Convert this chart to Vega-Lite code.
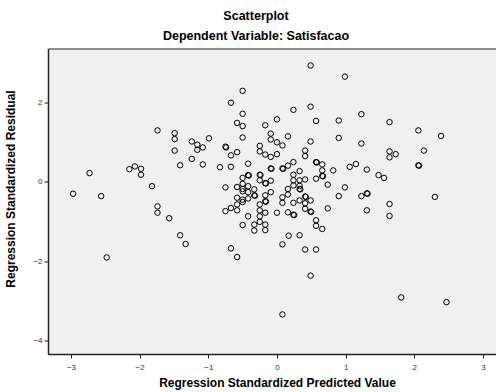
{
  "$schema": "https://vega.github.io/schema/vega-lite/v6.json",
  "autosize": "none",
  "width": 450,
  "height": 305.5,
  "padding": {"left": 48, "top": 48.5, "right": 0, "bottom": 38},
  "background": "#ffffff",
  "title": {
    "text": "Scatterplot",
    "subtitle": "Dependent Variable: Satisfacao",
    "font": "Liberation Sans",
    "fontSize": 12.5,
    "fontWeight": "bold",
    "color": "#000000",
    "subtitleFont": "Liberation Sans",
    "subtitleFontSize": 12.5,
    "subtitleFontWeight": "bold",
    "subtitleColor": "#000000",
    "subtitlePadding": 8,
    "anchor": "middle",
    "dx": -17,
    "offset": 6
  },
  "config": {
    "view": {"fill": "#f0f0f0", "stroke": "#222222", "strokeWidth": 1},
    "axis": {"grid": false}
  },
  "data": {
    "values": [
      {"pred": -2.97, "resid": -0.30}, {"pred": -2.73, "resid": 0.22}, {"pred": -2.56, "resid": -0.36}, {"pred": -2.48, "resid": -1.91},
      {"pred": -2.15, "resid": 0.32}, {"pred": -2.07, "resid": 0.39}, {"pred": -1.98, "resid": 0.33}, {"pred": -1.98, "resid": 0.18},
      {"pred": -1.82, "resid": -0.11}, {"pred": -1.74, "resid": 1.30}, {"pred": -1.74, "resid": -0.62}, {"pred": -1.74, "resid": -0.78},
      {"pred": -1.57, "resid": -0.92}, {"pred": -1.49, "resid": 1.23}, {"pred": -1.49, "resid": 1.08}, {"pred": -1.49, "resid": 0.79},
      {"pred": -1.41, "resid": 0.42}, {"pred": -1.41, "resid": -1.35}, {"pred": -1.33, "resid": -1.57}, {"pred": -1.24, "resid": 1.02},
      {"pred": -1.24, "resid": 0.58}, {"pred": -1.16, "resid": 0.94}, {"pred": -1.16, "resid": 0.81}, {"pred": -1.08, "resid": 0.87},
      {"pred": -1.08, "resid": 0.44}, {"pred": -0.99, "resid": 1.10}, {"pred": -0.83, "resid": 0.37}, {"pred": -0.75, "resid": 0.89},
      {"pred": -0.74, "resid": 0.87}, {"pred": -0.75, "resid": -0.14}, {"pred": -0.75, "resid": -0.74}, {"pred": -0.67, "resid": 2.00},
      {"pred": -0.67, "resid": 0.67}, {"pred": -0.67, "resid": 0.38}, {"pred": -0.67, "resid": -0.66}, {"pred": -0.67, "resid": -1.68},
      {"pred": -0.58, "resid": 1.49}, {"pred": -0.58, "resid": 0.75}, {"pred": -0.58, "resid": -0.13}, {"pred": -0.58, "resid": -0.40},
      {"pred": -0.58, "resid": -0.57}, {"pred": -0.58, "resid": -0.72}, {"pred": -0.58, "resid": -1.90}, {"pred": -0.50, "resid": 2.30},
      {"pred": -0.50, "resid": 1.72}, {"pred": -0.50, "resid": 1.41}, {"pred": -0.50, "resid": 1.12}, {"pred": -0.50, "resid": 0.10},
      {"pred": -0.50, "resid": -0.05}, {"pred": -0.50, "resid": -0.18}, {"pred": -0.50, "resid": -0.24}, {"pred": -0.50, "resid": -0.45},
      {"pred": -0.50, "resid": -0.51}, {"pred": -0.50, "resid": -1.09}, {"pred": -0.42, "resid": 0.46}, {"pred": -0.42, "resid": 0.17},
      {"pred": -0.41, "resid": 0.16}, {"pred": -0.42, "resid": -0.11}, {"pred": -0.42, "resid": -0.26}, {"pred": -0.42, "resid": -0.42},
      {"pred": -0.42, "resid": -0.87}, {"pred": -0.33, "resid": -0.19}, {"pred": -0.33, "resid": -0.34}, {"pred": -0.32, "resid": -0.35},
      {"pred": -0.33, "resid": -1.08}, {"pred": -0.33, "resid": -1.23}, {"pred": -0.25, "resid": 0.91}, {"pred": -0.25, "resid": 0.77},
      {"pred": -0.25, "resid": 0.18}, {"pred": -0.24, "resid": 0.17}, {"pred": -0.25, "resid": 0.04}, {"pred": -0.25, "resid": -0.57},
      {"pred": -0.25, "resid": -0.72}, {"pred": -0.25, "resid": -0.87}, {"pred": -0.25, "resid": -1.01}, {"pred": -0.17, "resid": 1.43},
      {"pred": -0.17, "resid": 0.69}, {"pred": -0.17, "resid": -0.03}, {"pred": -0.16, "resid": -0.04}, {"pred": -0.17, "resid": -0.34},
      {"pred": -0.17, "resid": -0.49}, {"pred": -0.16, "resid": -0.50}, {"pred": -0.17, "resid": -0.78}, {"pred": -0.17, "resid": -1.08},
      {"pred": -0.17, "resid": -1.22}, {"pred": -0.09, "resid": 1.22}, {"pred": -0.09, "resid": 1.07}, {"pred": -0.09, "resid": 0.63},
      {"pred": -0.09, "resid": 0.34}, {"pred": -0.08, "resid": 0.33}, {"pred": -0.09, "resid": 0.03}, {"pred": -0.09, "resid": -0.26},
      {"pred": 0.00, "resid": 1.58}, {"pred": 0.00, "resid": 1.00}, {"pred": 0.00, "resid": 0.70}, {"pred": 0.00, "resid": -0.78},
      {"pred": 0.08, "resid": 0.92}, {"pred": 0.08, "resid": 0.34}, {"pred": 0.09, "resid": 0.33}, {"pred": 0.08, "resid": -0.39},
      {"pred": 0.08, "resid": -0.53}, {"pred": 0.08, "resid": -1.58}, {"pred": 0.08, "resid": -3.35}, {"pred": 0.16, "resid": 1.15},
      {"pred": 0.16, "resid": 0.41}, {"pred": 0.16, "resid": -0.18}, {"pred": 0.16, "resid": -0.32}, {"pred": 0.16, "resid": -0.77},
      {"pred": 0.17, "resid": -1.36}, {"pred": 0.24, "resid": 1.82}, {"pred": 0.24, "resid": 0.50}, {"pred": 0.24, "resid": 0.18},
      {"pred": 0.24, "resid": 0.04}, {"pred": 0.24, "resid": -0.09}, {"pred": 0.24, "resid": -0.53}, {"pred": 0.24, "resid": -0.83},
      {"pred": 0.25, "resid": -0.84}, {"pred": 0.33, "resid": 0.27}, {"pred": 0.33, "resid": 0.04}, {"pred": 0.33, "resid": -0.10},
      {"pred": 0.33, "resid": -0.18}, {"pred": 0.34, "resid": -0.19}, {"pred": 0.33, "resid": -0.47}, {"pred": 0.33, "resid": -1.35},
      {"pred": 0.41, "resid": 0.79}, {"pred": 0.41, "resid": 0.65}, {"pred": 0.41, "resid": 0.06}, {"pred": 0.41, "resid": -0.37},
      {"pred": 0.42, "resid": -0.38}, {"pred": 0.41, "resid": -0.54}, {"pred": 0.41, "resid": -0.68}, {"pred": 0.41, "resid": -1.71},
      {"pred": 0.49, "resid": 2.94}, {"pred": 0.49, "resid": 1.90}, {"pred": 0.49, "resid": 1.02}, {"pred": 0.49, "resid": -0.47},
      {"pred": 0.49, "resid": -0.75}, {"pred": 0.50, "resid": -0.76}, {"pred": 0.49, "resid": -2.37}, {"pred": 0.57, "resid": 1.54},
      {"pred": 0.57, "resid": 0.50}, {"pred": 0.58, "resid": 0.49}, {"pred": 0.57, "resid": 0.08}, {"pred": 0.57, "resid": -0.97},
      {"pred": 0.57, "resid": -1.11}, {"pred": 0.57, "resid": -1.71}, {"pred": 0.66, "resid": 0.44}, {"pred": 0.66, "resid": 0.29},
      {"pred": 0.66, "resid": 0.15}, {"pred": 0.67, "resid": 0.14}, {"pred": 0.66, "resid": -1.19}, {"pred": 0.74, "resid": -0.07},
      {"pred": 0.74, "resid": -0.67}, {"pred": 0.82, "resid": 0.29}, {"pred": 0.90, "resid": 1.55}, {"pred": 0.90, "resid": 1.11},
      {"pred": 0.90, "resid": -0.36}, {"pred": 0.99, "resid": 2.66}, {"pred": 0.99, "resid": -0.14}, {"pred": 1.06, "resid": 0.38},
      {"pred": 1.15, "resid": 0.45}, {"pred": 1.23, "resid": 1.71}, {"pred": 1.23, "resid": 0.97}, {"pred": 1.23, "resid": -0.36},
      {"pred": 1.31, "resid": 0.31}, {"pred": 1.31, "resid": -0.29}, {"pred": 1.32, "resid": -0.30}, {"pred": 1.31, "resid": -0.72},
      {"pred": 1.48, "resid": 0.17}, {"pred": 1.56, "resid": 0.10}, {"pred": 1.64, "resid": 1.51}, {"pred": 1.64, "resid": 0.77},
      {"pred": 1.64, "resid": 0.62}, {"pred": 1.64, "resid": -0.56}, {"pred": 1.64, "resid": -0.86}, {"pred": 1.73, "resid": 0.70},
      {"pred": 1.81, "resid": -2.92}, {"pred": 2.06, "resid": 1.30}, {"pred": 2.06, "resid": 0.42}, {"pred": 2.07, "resid": 0.41},
      {"pred": 2.14, "resid": 0.79}, {"pred": 2.30, "resid": -0.38}, {"pred": 2.39, "resid": 1.16}, {"pred": 2.47, "resid": -3.04}
    ]
  },
  "mark": {"type": "point", "shape": "circle", "filled": false, "size": 30, "stroke": "#000000", "strokeWidth": 1, "opacity": 1, "clip": true},
  "encoding": {
    "x": {
      "field": "pred",
      "type": "quantitative",
      "scale": {"domain": [-3.335, 3.22], "nice": false, "zero": false},
      "axis": {
        "title": "Regression Standardized Predicted Value",
        "values": [-3, -2, -1, 0, 1, 2, 3],
        "format": "d",
        "domainColor": "#222222",
        "domainWidth": 1.5,
        "tickColor": "#222222",
        "tickSize": 4,
        "labelFont": "Liberation Sans",
        "labelFontSize": 8,
        "labelColor": "#333333",
        "labelPadding": 5,
        "titleFont": "Liberation Sans",
        "titleFontSize": 12,
        "titleFontWeight": "bold",
        "titleColor": "#000000",
        "titleX": 229,
        "titleY": 32,
        "titleBaseline": "alphabetic"
      }
    },
    "y": {
      "field": "resid",
      "type": "quantitative",
      "scale": {"domain": [-4.35, 3.37], "nice": false, "zero": false},
      "axis": {
        "title": "Regression Standardized Residual",
        "values": [-4, -2, 0, 2],
        "format": "d",
        "domainColor": "#222222",
        "domainWidth": 1.5,
        "tickColor": "#222222",
        "tickSize": 4,
        "labelFont": "Liberation Sans",
        "labelFontSize": 8,
        "labelColor": "#333333",
        "labelPadding": 2,
        "titleFont": "Liberation Sans",
        "titleFontSize": 12,
        "titleFontWeight": "bold",
        "titleColor": "#000000",
        "titleAngle": -90,
        "titleX": -34,
        "titleY": 140,
        "titleBaseline": "alphabetic"
      }
    }
  }
}
